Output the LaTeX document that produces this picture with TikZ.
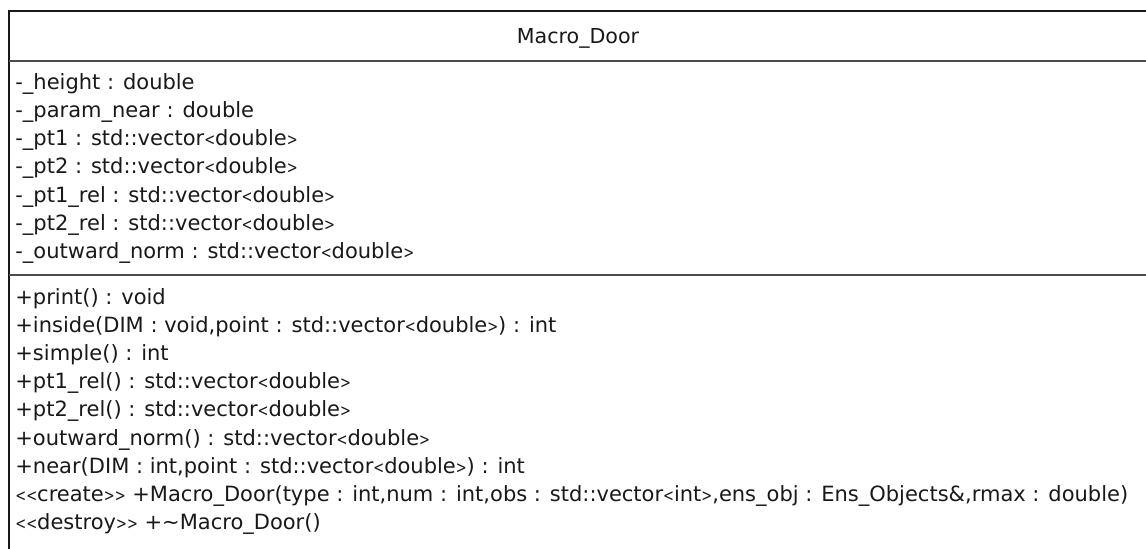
\documentclass[tikz,border=0pt]{standalone}
\usepackage{graphicx}
\usepackage{fontspec}
\newfontfamily\umlfont{DejaVu Sans}
\newcommand\ltg{\scalebox{0.62}[0.8]{<}}
\newcommand\gtg{\scalebox{0.62}[0.8]{>}}
\begin{document}
\begin{tikzpicture}[x=0.5pt,y=-0.5pt,
  member/.style={anchor=base west,inner sep=0pt,font=\umlfont\fontsize{10.5pt}{12pt}\selectfont,text=black!90},
  title/.style={anchor=base,inner sep=0pt,font=\umlfont\fontsize{10.3pt}{12pt}\selectfont,text=black!90},
  border/.style={draw=black!90,line width=1pt},
  sep/.style={draw=black!70,line width=1pt}]
\useasboundingbox (0,0) rectangle (1146,548);
\clip (0,0) rectangle (1146,548);
\fill[white] (0,0) rectangle (1146,548);
% class box, extends past right and bottom edges
\coordinate (tl) at (9,11);
\coordinate (br) at (1152,556);
\coordinate (s1l) at (9,61);
\coordinate (s1r) at (1152,61);
\coordinate (s2l) at (9,275);
\coordinate (s2r) at (1152,275);
\path[border] (tl) rectangle (br);
\path[sep] (s1l) -- (s1r);
\path[sep] (s2l) -- (s2r);
\node[title] (name) at (578,43) {Macro\_Door};
% attributes
\node[member] (a1) at (15,89.0) {-\_height : double};
\node[member] (a2) at (15,117.3) {-\_param\_near : double};
\node[member] (a3) at (15,145.6) {-\_pt1 : std::vector\ltg double\gtg};
\node[member] (a4) at (15,173.9) {-\_pt2 : std::vector\ltg double\gtg};
\node[member] (a5) at (15,202.2) {-\_pt1\_rel : std::vector\ltg double\gtg};
\node[member] (a6) at (15,230.5) {-\_pt2\_rel : std::vector\ltg double\gtg};
\node[member] (a7) at (15,258.8) {-\_outward\_norm : std::vector\ltg double\gtg};
% operations
\node[member] (m1) at (15,304.0) {+print() : void};
\node[member] (m2) at (15,332.2) {+inside(DIM : void,point : std::vector\ltg double\gtg) : int};
\node[member] (m3) at (15,360.4) {+simple() : int};
\node[member] (m4) at (15,388.6) {+pt1\_rel() : std::vector\ltg double\gtg};
\node[member] (m5) at (15,416.8) {+pt2\_rel() : std::vector\ltg double\gtg};
\node[member] (m6) at (15,445.0) {+outward\_norm() : std::vector\ltg double\gtg};
\node[member] (m7) at (15,473.2) {+near(DIM : int,point : std::vector\ltg double\gtg) : int};
\node[member] (m8) at (15,501.4) {\ltg\ltg create\gtg\gtg\ +Macro\_Door(type : int,num : int,obs : std::vector\ltg int\gtg,ens\_obj : Ens\_Objects\&,rmax : double)};
\node[member] (m9) at (15,529.6) {\ltg\ltg destroy\gtg\gtg\ +\textasciitilde Macro\_Door()};
\end{tikzpicture}
\end{document}
